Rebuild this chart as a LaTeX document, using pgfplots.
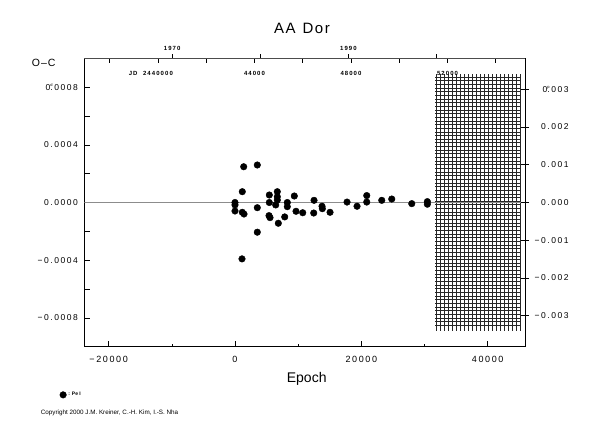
\documentclass[border=0pt]{standalone}
\usepackage{fontspec}
\setmainfont{Liberation Sans}
\newfontfamily\tickfont[LetterSpace=18]{Liberation Sans}
\newfontfamily\widefont[LetterSpace=10]{Liberation Sans}
\usepackage{pgfplots}
\pgfplotsset{compat=1.18}
\pgfplotstableread{
epoch oc
1378 0.000248
3532 0.000260
1156 0.000075
0 0.000000
0 -0.000017
0 -0.000059
1156 -0.000068
1426 -0.000080
3532 -0.000036
3532 -0.000206
5433 0.000052
5433 0.000000
5386 -0.000091
5544 -0.000105
6700 0.000075
6700 0.000040
6700 0.000017
6447 -0.000017
6859 -0.000144
7872 -0.000100
8284 0.000000
8284 -0.000029
9393 0.000045
9662 -0.000061
10723 -0.000071
12513 0.000015
12466 -0.000073
13780 -0.000026
13828 -0.000043
15048 -0.000068
17740 0.000003
19324 -0.000026
20860 0.000048
20860 0.000003
23236 0.000015
24820 0.000024
27987 -0.000008
30457 0.000006
30457 -0.000012
1109 -0.000391
}\datatable
\begin{document}
\begin{tikzpicture}[x=1pt,y=1pt]
\path[use as bounding box] (0,0) rectangle (590,425);

% hatched grid region (vertical lines)
\begin{axis}[at={(436.5pt,94pt)}, anchor=south west, scale only axis,
  width=84pt, height=257pt, xmin=0, xmax=21, ymin=0, ymax=1,
  xtick={0,...,21}, ytick=\empty, xmajorgrids,
  major grid style={black!85, line width=0.4pt},
  axis line style={draw=none}, xticklabels={}, major tick length=0pt]
\end{axis}
% hatched grid region (horizontal lines)
\begin{axis}[at={(435pt,100pt)}, anchor=south west, scale only axis,
  width=85.5pt, height=248pt, xmin=0, xmax=1, ymin=0, ymax=68,
  ytick={0,...,68}, xtick=\empty, ymajorgrids,
  major grid style={black!85, line width=0.4pt},
  axis line style={draw=none}, yticklabels={}, major tick length=0pt]
\end{axis}

% main axis
\begin{axis}[name=main, at={(84.3pt,78.3pt)}, anchor=south west, scale only axis,
  width=440.7pt, height=288.4pt,
  xmin=-23860, xmax=45916, ymin=-0.001, ymax=0.001,
  axis line style={black, line width=0.8pt},
  xtick pos=left, ytick pos=left, tick align=inside,
  tick style={black, line width=0.6pt},
  major tick length=6pt, minor tick length=3pt,
  xtick={-20000,0,20000,40000},
  minor xtick={-10000,10000,30000},
  xticklabels={−20000,0,20000,40000},
  ytick={-0.0008,-0.0006,-0.0004,-0.0002,0,0.0002,0.0004,0.0006,0.0008},
  yticklabels={−0.0008,,−0.0004,,0.0000,,0.0004,,{0\rlap{\raisebox{3.5pt}{\fontsize{4}{4}\selectfont d}}.0008}},
  scaled x ticks=false, scaled y ticks=false,
  xticklabel style={font=\tickfont\fontsize{9}{10}\selectfont, yshift=-6pt},
  yticklabel style={font=\tickfont\fontsize{8.5}{10}\selectfont, xshift=-3pt},
  legend style={at={(-0.056,-0.167)}, anchor=west, draw=none, fill=none,
    font=\fontsize{5}{6}\selectfont\bfseries, inner sep=0pt},
  legend cell align=left,
]
\addplot[black!45, line width=0.8pt, forget plot] coordinates {(-23860,0) (45916,0)};
\addplot[only marks, mark=*, mark size=3.3pt, black] table[x=epoch, y=oc] {\datatable};
\addlegendentry{: Pe I}
\end{axis}

% right axis (phase)
\begin{axis}[at={(84.3pt,78.3pt)}, anchor=south west, scale only axis,
  width=440.7pt, height=288.4pt,
  xmin=-23860, xmax=45916, ymin=-0.0038235, ymax=0.0038235,
  axis x line=none, axis y line*=right,
  axis line style={black, line width=0.8pt},
  tick style={black, line width=0.6pt},
  ytick={-0.003,-0.002,-0.001,0,0.001,0.002,0.003},
  yticklabels={−0.003,−0.002,−0.001,0.000,0.001,0.002,{0\rlap{\raisebox{3.5pt}{\fontsize{4}{4}\selectfont p}}.003}},
  scaled y ticks=false, tick align=center, major tick length=8pt,
  yticklabel style={font=\tickfont\fontsize{8.5}{10}\selectfont, anchor=west, text width=36pt, align=right, xshift=0pt},
]
\end{axis}

% top axis: JD
\begin{axis}[at={(84.3pt,78.3pt)}, anchor=south west, scale only axis,
  width=440.7pt, height=288.4pt,
  xmin=-23860, xmax=45916, ymin=0, ymax=1,
  axis y line=none, axis x line*=top,
  axis line style={black!70, line width=0.8pt},
  tick style={black, line width=0.6pt},
  xtick={-19831,-12192,-4552,3088,10727,18367,26006,33646,41286},
  xticklabels={,{\llap{JD\ \ }2440000},,44000,,48000,,52000,},
  scaled x ticks=false, tick align=inside, major tick length=5pt,
  xticklabel style={font=\tickfont\fontsize{6}{7}\selectfont\bfseries, anchor=north, yshift=-9pt},
]
\end{axis}

% top axis: years
\begin{axis}[at={(84.3pt,78.3pt)}, anchor=south west, scale only axis,
  width=440.7pt, height=288.4pt,
  xmin=-23860, xmax=45916, ymin=0, ymax=1,
  axis y line=none, axis x line*=top,
  axis line style={black!70, line width=0.8pt},
  tick style={black, line width=0.6pt},
  xtick={-9947,4002,17956,31905},
  xticklabels={1970,,1990,},
  scaled x ticks=false, tick align=outside, major tick length=4pt,
  xticklabel style={font=\tickfont\fontsize{6}{7}\selectfont\bfseries},
]
\end{axis}

\node[anchor=base] at (302,391.7) {\fontsize{15}{16}\selectfont\widefont AA\hspace{7pt}Dor};
\node[anchor=base west, inner sep=0pt] at (31.7,358.3) {\fontsize{10.5}{12}\selectfont\widefont O–C};
\node[anchor=base, inner sep=0pt] at (306.7,42.7) {\fontsize{14}{16}\selectfont Epoch};
\node[anchor=base west, inner sep=0pt] at (40.7,10.7) {\fontsize{6.3}{7}\selectfont Copyright 2000 J.M. Kreiner, C.-H. Kim, I.-S. Nha};
\end{tikzpicture}
\end{document}
